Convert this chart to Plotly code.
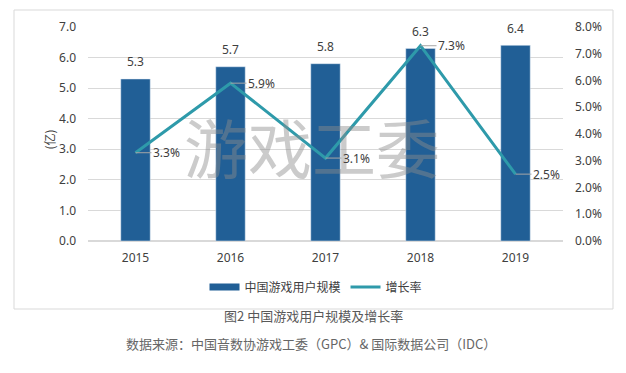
import plotly.graph_objects as go

years = ["2015", "2016", "2017", "2018", "2019"]
users = [5.3, 5.7, 5.8, 6.3, 6.4]            # 亿
growth = [3.3, 5.9, 3.1, 7.3, 2.5]           # %
left_ticks = [0, 1, 2, 3, 4, 5, 6, 7]
right_ticks = [0, 1, 2, 3, 4, 5, 6, 7, 8]

BAR = "#215F96"
LINE = "#2E9AAA"
TXT = "#404040"
FONT = "Noto Sans, Noto Sans CJK SC"
CJK = "Noto Sans CJK SC"

OFF = 8  # page body margin
W, H = 618, 365
L, R, T, B = 80, 63, 19, 132
pw, ph = W - L - R, H - T - B

def px(x):
    return (x - OFF - L) / pw

def py(y):
    return (H - B - (y - OFF)) / ph

xs = list(range(len(years)))

fig = go.Figure()
fig.add_trace(go.Bar(x=xs, y=users, name="中国游戏用户规模", marker_color=BAR,
                     width=0.31, showlegend=False, yaxis="y"))
fig.add_trace(go.Scatter(x=[None], y=[None], mode="lines", name="中国游戏用户规模",
                         line=dict(color=BAR, width=7), showlegend=True))
fig.add_trace(go.Scatter(x=xs, y=growth, name="增长率", mode="lines",
                         line=dict(color=LINE, width=3), yaxis="y2"))

ann = []
# watermark (semi-transparent, over the bars)
ann.append(dict(x=px(312), y=py(145), xref="paper", yref="paper", text="游戏工委",
                showarrow=False,
                font=dict(size=64, color="rgba(140,140,140,0.45)", family=CJK)))
for i, v in zip(xs, users):
    ann.append(dict(x=i, y=v, xref="x", yref="y", text=f"{v:.1f}", showarrow=False,
                    yshift=17, font=dict(size=12, color=TXT, family=FONT)))
for i, g in zip(xs, growth):
    ann.append(dict(x=i, y=g, xref="x", yref="y2", text=f"{g:.1f}%", showarrow=True,
                    arrowhead=0, arrowwidth=1, arrowcolor="#a6a6a6", ax=31, ay=0,
                    font=dict(size=12, color=TXT, family=FONT)))
ann.append(dict(x=px(38), y=py(140), xref="paper", yref="paper", text="(亿)", textangle=-90,
                showarrow=False, font=dict(size=12, color=TXT, family=CJK)))
ann.append(dict(x=px(313), y=py(327), xref="paper", yref="paper",
                text="图2 中国游戏用户规模及增长率", showarrow=False,
                font=dict(size=13, color="#595959", family=CJK)))
ann.append(dict(x=px(311), y=py(355), xref="paper", yref="paper",
                text="数据来源：中国音数协游戏工委（GPC）& 国际数据公司（IDC）", showarrow=False,
                font=dict(size=13, color="#666666", family=CJK)))

shapes = [
    dict(type="rect", xref="paper", yref="paper", x0=px(14), x1=px(613), y0=py(309), y1=py(10),
         line=dict(color="#d9d9d9", width=1), fillcolor="rgba(0,0,0,0)", layer="below"),
]

fig.update_layout(
    width=W, height=H,
    margin=dict(l=L, r=R, t=T, b=B, autoexpand=False),
    paper_bgcolor="white", plot_bgcolor="white",
    font=dict(family=FONT, size=12, color=TXT),
    xaxis=dict(range=[-0.5, 4.5], tickvals=xs, ticktext=years, showgrid=False, showline=False,
               zeroline=False, ticks="", ticklabelstandoff=8, tickfont=dict(size=12, color=TXT)),
    yaxis=dict(range=[0, 7], tickvals=left_ticks, tickformat=".1f", showgrid=True,
               gridcolor="#d9d9d9", gridwidth=1, zeroline=True, zerolinecolor="#d9d9d9",
               showline=False, ticks="", ticklabelstandoff=11, tickfont=dict(size=12, color=TXT)),
    yaxis2=dict(range=[0, 8], tickvals=right_ticks, ticktext=[f"{t:.1f}%" for t in right_ticks],
                overlaying="y", side="right", showgrid=False, zeroline=False, showline=False,
                ticks="", ticklabelstandoff=11, tickfont=dict(size=12, color=TXT)),
    legend=dict(orientation="h", x=px(316), xanchor="center", y=py(287), yanchor="middle",
                font=dict(size=12, color=TXT, family=CJK), bgcolor="rgba(0,0,0,0)",
                itemwidth=30, traceorder="normal"),
    annotations=ann,
    shapes=shapes,
)

fig.write_html("out.html")
